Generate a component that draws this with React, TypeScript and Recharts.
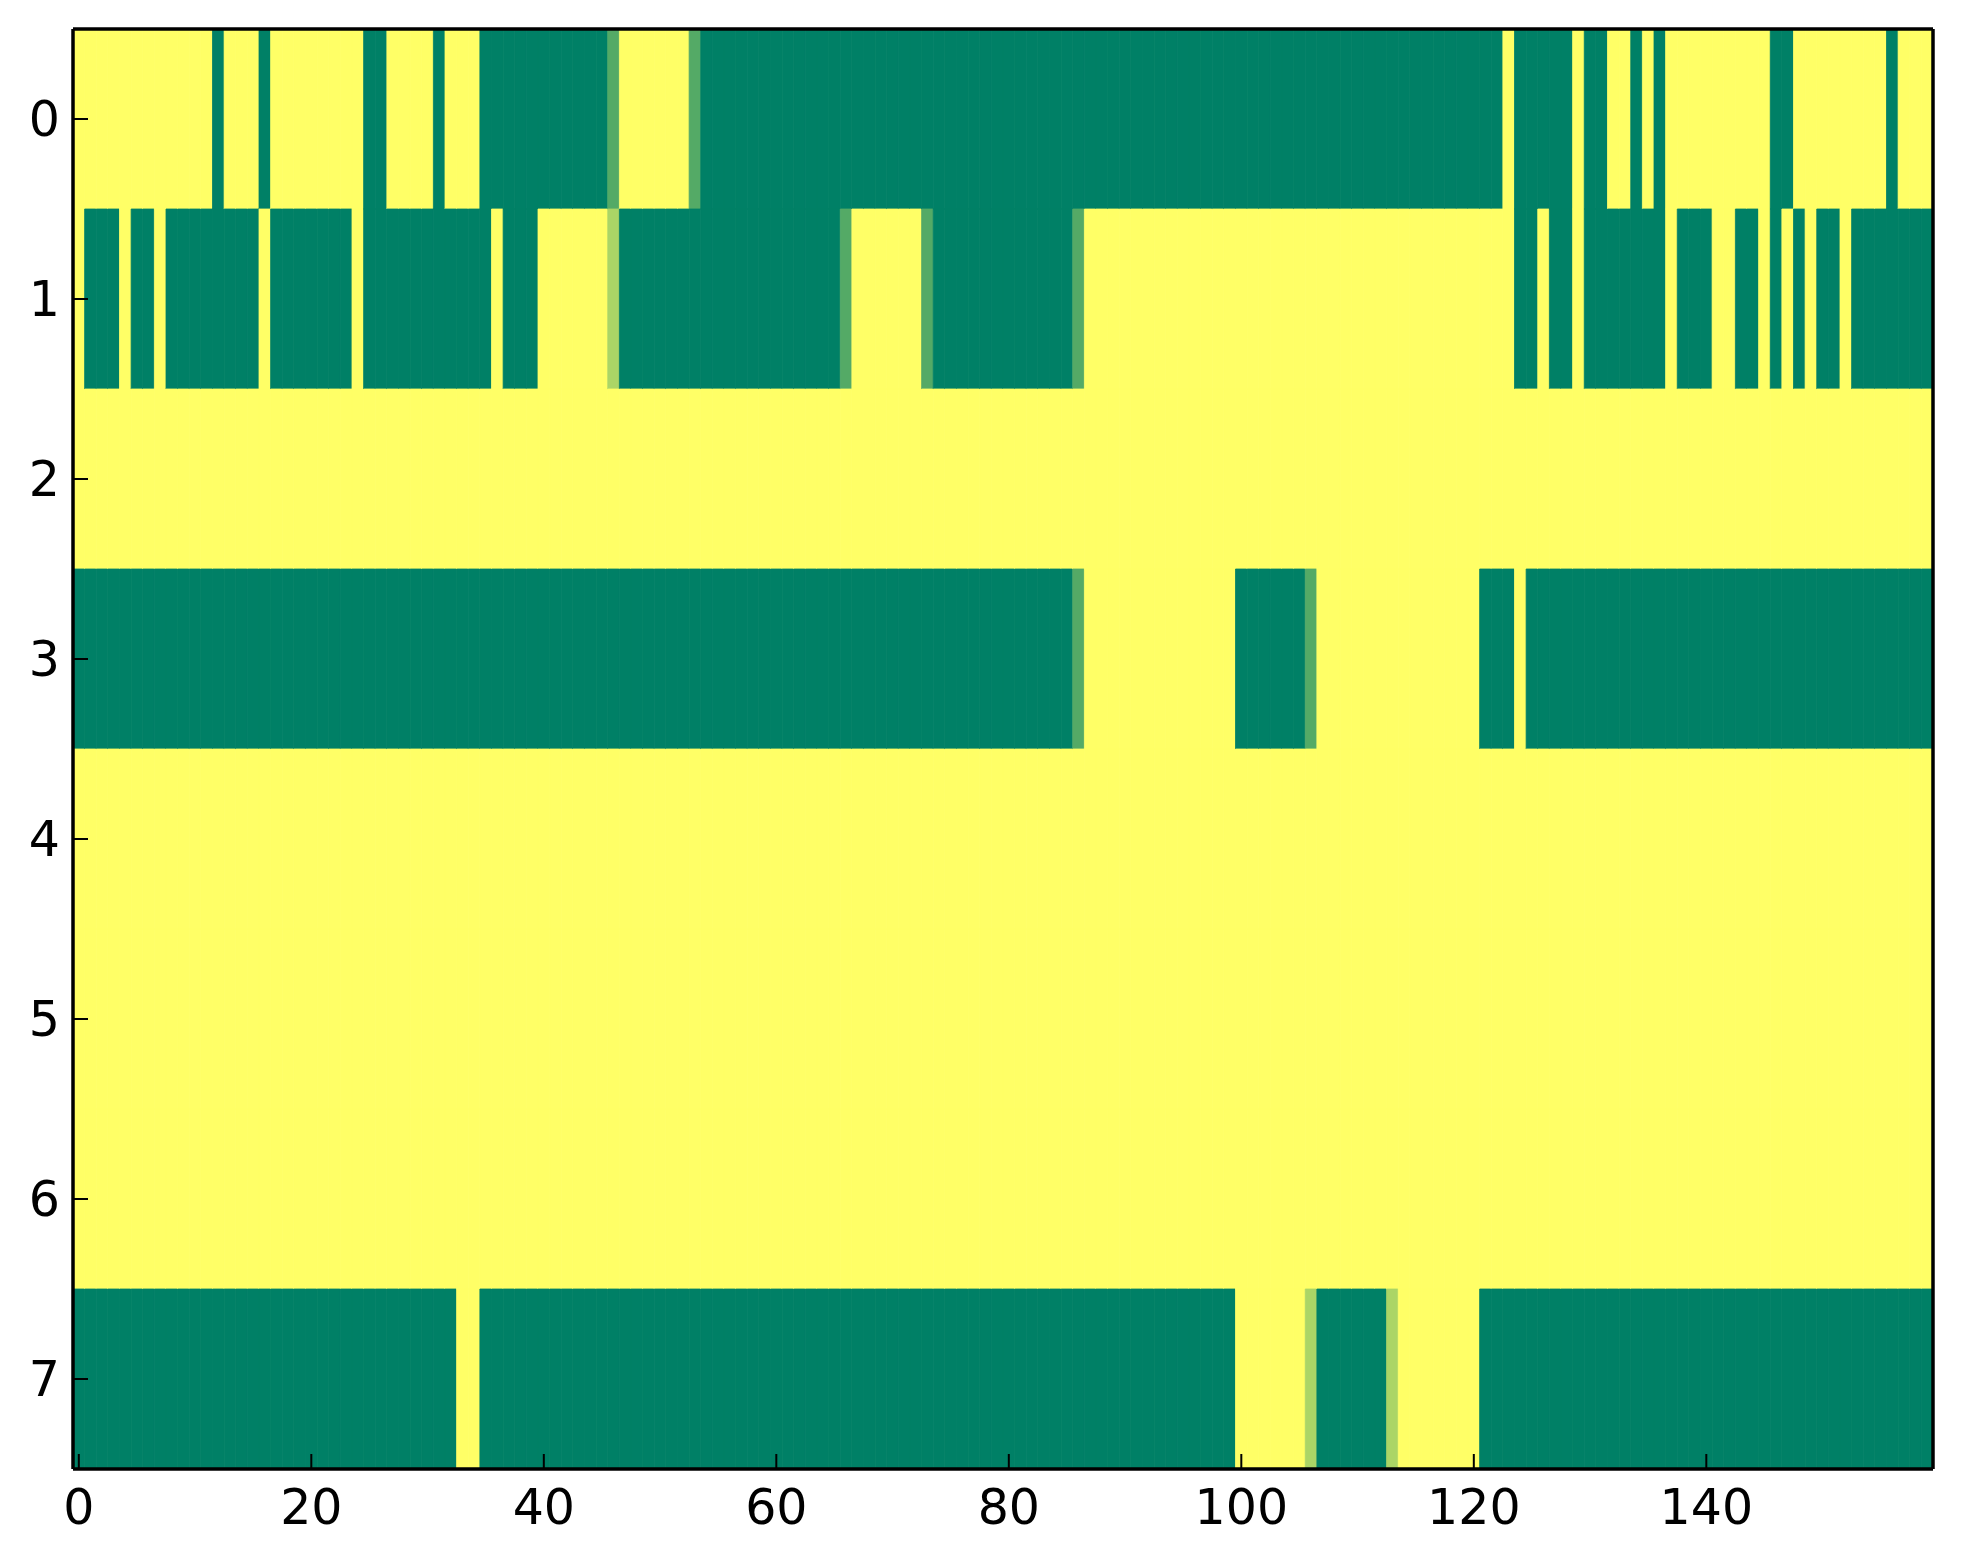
import { BarChart, Bar, Cell, XAxis, YAxis } from "recharts";

// ─── Data: imshow of 8 rows x 160 columns, values 0..1 (summer colormap) ─────

const ROW_LABELS = [0, 1, 2, 3, 4, 5, 6, 7];
const X_TICKS = [0, 20, 40, 60, 80, 100, 120, 140];

const ROW_0 = [
  1, 1, 1, 1, 1, 1, 1, 1, 1, 1, 1, 1, 0, 1, 1, 1, 0, 1, 1, 1, 1, 1, 1, 1, 1, 0, 0, 1, 1, 1, 1, 0, 1, 1, 1, 0, 0, 0, 0, 0,
  0, 0, 0, 0, 0, 0, 0.33, 1, 1, 1, 1, 1, 1, 0.33, 0, 0, 0, 0, 0, 0, 0, 0, 0, 0, 0, 0, 0, 0, 0, 0, 0, 0, 0, 0, 0, 0, 0, 0, 0, 0,
  0, 0, 0, 0, 0, 0, 0, 0, 0, 0, 0, 0, 0, 0, 0, 0, 0, 0, 0, 0, 0, 0, 0, 0, 0, 0, 0, 0, 0, 0, 0, 0, 0, 0, 0, 0, 0, 0, 0, 0,
  0, 0, 0, 1, 0, 0, 0, 0, 0, 1, 0, 0, 1, 1, 0, 1, 0, 1, 1, 1, 1, 1, 1, 1, 1, 1, 0, 0, 1, 1, 1, 1, 1, 1, 1, 1, 0, 1, 1, 1,
];
const ROW_1 = [
  1, 0, 0, 0, 1, 0, 0, 1, 0, 0, 0, 0, 0, 0, 0, 0, 1, 0, 0, 0, 0, 0, 0, 0, 1, 0, 0, 0, 0, 0, 0, 0, 0, 0, 0, 0, 1, 0, 0, 0,
  1, 1, 1, 1, 1, 1, 0.67, 0, 0, 0, 0, 0, 0, 0, 0, 0, 0, 0, 0, 0, 0, 0, 0, 0, 0, 0, 0.33, 1, 1, 1, 1, 1, 1, 0.33, 0, 0, 0, 0, 0, 0,
  0, 0, 0, 0, 0, 0, 0.33, 1, 1, 1, 1, 1, 1, 1, 1, 1, 1, 1, 1, 1, 1, 1, 1, 1, 1, 1, 1, 1, 1, 1, 1, 1, 1, 1, 1, 1, 1, 1, 1, 1,
  1, 1, 1, 1, 0, 0, 1, 0, 0, 1, 0, 0, 0, 0, 0, 0, 0, 1, 0, 0, 0, 1, 1, 0, 0, 1, 0, 1, 0, 1, 0, 0, 1, 0, 0, 0, 0, 0, 0, 0,
];
const ROW_2 = [
  1, 1, 1, 1, 1, 1, 1, 1, 1, 1, 1, 1, 1, 1, 1, 1, 1, 1, 1, 1, 1, 1, 1, 1, 1, 1, 1, 1, 1, 1, 1, 1, 1, 1, 1, 1, 1, 1, 1, 1,
  1, 1, 1, 1, 1, 1, 1, 1, 1, 1, 1, 1, 1, 1, 1, 1, 1, 1, 1, 1, 1, 1, 1, 1, 1, 1, 1, 1, 1, 1, 1, 1, 1, 1, 1, 1, 1, 1, 1, 1,
  1, 1, 1, 1, 1, 1, 1, 1, 1, 1, 1, 1, 1, 1, 1, 1, 1, 1, 1, 1, 1, 1, 1, 1, 1, 1, 1, 1, 1, 1, 1, 1, 1, 1, 1, 1, 1, 1, 1, 1,
  1, 1, 1, 1, 1, 1, 1, 1, 1, 1, 1, 1, 1, 1, 1, 1, 1, 1, 1, 1, 1, 1, 1, 1, 1, 1, 1, 1, 1, 1, 1, 1, 1, 1, 1, 1, 1, 1, 1, 1,
];
const ROW_3 = [
  0, 0, 0, 0, 0, 0, 0, 0, 0, 0, 0, 0, 0, 0, 0, 0, 0, 0, 0, 0, 0, 0, 0, 0, 0, 0, 0, 0, 0, 0, 0, 0, 0, 0, 0, 0, 0, 0, 0, 0,
  0, 0, 0, 0, 0, 0, 0, 0, 0, 0, 0, 0, 0, 0, 0, 0, 0, 0, 0, 0, 0, 0, 0, 0, 0, 0, 0, 0, 0, 0, 0, 0, 0, 0, 0, 0, 0, 0, 0, 0,
  0, 0, 0, 0, 0, 0, 0.33, 1, 1, 1, 1, 1, 1, 1, 1, 1, 1, 1, 1, 1, 0, 0, 0, 0, 0, 0, 0.33, 1, 1, 1, 1, 1, 1, 1, 1, 1, 1, 1, 1, 1,
  1, 0, 0, 0, 1, 0, 0, 0, 0, 0, 0, 0, 0, 0, 0, 0, 0, 0, 0, 0, 0, 0, 0, 0, 0, 0, 0, 0, 0, 0, 0, 0, 0, 0, 0, 0, 0, 0, 0, 0,
];
const ROW_4 = [
  1, 1, 1, 1, 1, 1, 1, 1, 1, 1, 1, 1, 1, 1, 1, 1, 1, 1, 1, 1, 1, 1, 1, 1, 1, 1, 1, 1, 1, 1, 1, 1, 1, 1, 1, 1, 1, 1, 1, 1,
  1, 1, 1, 1, 1, 1, 1, 1, 1, 1, 1, 1, 1, 1, 1, 1, 1, 1, 1, 1, 1, 1, 1, 1, 1, 1, 1, 1, 1, 1, 1, 1, 1, 1, 1, 1, 1, 1, 1, 1,
  1, 1, 1, 1, 1, 1, 1, 1, 1, 1, 1, 1, 1, 1, 1, 1, 1, 1, 1, 1, 1, 1, 1, 1, 1, 1, 1, 1, 1, 1, 1, 1, 1, 1, 1, 1, 1, 1, 1, 1,
  1, 1, 1, 1, 1, 1, 1, 1, 1, 1, 1, 1, 1, 1, 1, 1, 1, 1, 1, 1, 1, 1, 1, 1, 1, 1, 1, 1, 1, 1, 1, 1, 1, 1, 1, 1, 1, 1, 1, 1,
];
const ROW_5 = [
  1, 1, 1, 1, 1, 1, 1, 1, 1, 1, 1, 1, 1, 1, 1, 1, 1, 1, 1, 1, 1, 1, 1, 1, 1, 1, 1, 1, 1, 1, 1, 1, 1, 1, 1, 1, 1, 1, 1, 1,
  1, 1, 1, 1, 1, 1, 1, 1, 1, 1, 1, 1, 1, 1, 1, 1, 1, 1, 1, 1, 1, 1, 1, 1, 1, 1, 1, 1, 1, 1, 1, 1, 1, 1, 1, 1, 1, 1, 1, 1,
  1, 1, 1, 1, 1, 1, 1, 1, 1, 1, 1, 1, 1, 1, 1, 1, 1, 1, 1, 1, 1, 1, 1, 1, 1, 1, 1, 1, 1, 1, 1, 1, 1, 1, 1, 1, 1, 1, 1, 1,
  1, 1, 1, 1, 1, 1, 1, 1, 1, 1, 1, 1, 1, 1, 1, 1, 1, 1, 1, 1, 1, 1, 1, 1, 1, 1, 1, 1, 1, 1, 1, 1, 1, 1, 1, 1, 1, 1, 1, 1,
];
const ROW_6 = [
  1, 1, 1, 1, 1, 1, 1, 1, 1, 1, 1, 1, 1, 1, 1, 1, 1, 1, 1, 1, 1, 1, 1, 1, 1, 1, 1, 1, 1, 1, 1, 1, 1, 1, 1, 1, 1, 1, 1, 1,
  1, 1, 1, 1, 1, 1, 1, 1, 1, 1, 1, 1, 1, 1, 1, 1, 1, 1, 1, 1, 1, 1, 1, 1, 1, 1, 1, 1, 1, 1, 1, 1, 1, 1, 1, 1, 1, 1, 1, 1,
  1, 1, 1, 1, 1, 1, 1, 1, 1, 1, 1, 1, 1, 1, 1, 1, 1, 1, 1, 1, 1, 1, 1, 1, 1, 1, 1, 1, 1, 1, 1, 1, 1, 1, 1, 1, 1, 1, 1, 1,
  1, 1, 1, 1, 1, 1, 1, 1, 1, 1, 1, 1, 1, 1, 1, 1, 1, 1, 1, 1, 1, 1, 1, 1, 1, 1, 1, 1, 1, 1, 1, 1, 1, 1, 1, 1, 1, 1, 1, 1,
];
const ROW_7 = [
  0, 0, 0, 0, 0, 0, 0, 0, 0, 0, 0, 0, 0, 0, 0, 0, 0, 0, 0, 0, 0, 0, 0, 0, 0, 0, 0, 0, 0, 0, 0, 0, 0, 1, 1, 0, 0, 0, 0, 0,
  0, 0, 0, 0, 0, 0, 0, 0, 0, 0, 0, 0, 0, 0, 0, 0, 0, 0, 0, 0, 0, 0, 0, 0, 0, 0, 0, 0, 0, 0, 0, 0, 0, 0, 0, 0, 0, 0, 0, 0,
  0, 0, 0, 0, 0, 0, 0, 0, 0, 0, 0, 0, 0, 0, 0, 0, 0, 0, 0, 0, 1, 1, 1, 1, 1, 1, 0.67, 0, 0, 0, 0, 0, 0, 0.67, 1, 1, 1, 1, 1, 1,
  1, 0, 0, 0, 0, 0, 0, 0, 0, 0, 0, 0, 0, 0, 0, 0, 0, 0, 0, 0, 0, 0, 0, 0, 0, 0, 0, 0, 0, 0, 0, 0, 0, 0, 0, 0, 0, 0, 0, 0,
];

const GRID = [ROW_0, ROW_1, ROW_2, ROW_3, ROW_4, ROW_5, ROW_6, ROW_7];

// one stacked segment of width 1 per image column
const COL_KEYS = ROW_0.map((_, c) => `c${c}`);

const table = ROW_LABELS.map((row) => {
  const d: Record<string, number> = { row };
  COL_KEYS.forEach((k) => (d[k] = 1));
  return d;
});

// ─── matplotlib "summer" colormap ────────────────────────────────────────────

function summer(v: number): string {
  const r = Math.round(255 * v);
  const g = Math.round(127.5 + 127.5 * v);
  return `rgb(${r},${g},102)`;
}

const TICK = { fontSize: 49, fill: "#000", fontFamily: "DejaVu Sans" };
const SPINE = { stroke: "#000", strokeWidth: 3.5 };
const TICK_LINE = { stroke: "#000", strokeWidth: 2 };

export default function App() {
  return (
    <div style={{ position: "absolute", left: 0, top: 0, width: 1963, height: 1564, background: "#fff" }}>
      <BarChart
        width={1963}
        height={1564}
        layout="vertical"
        data={table}
        margin={{ top: 28, right: 29, bottom: 0, left: 0 }}
        barCategoryGap={0}
        barGap={0}
      >
        {COL_KEYS.map((k, c) => (
          <Bar
            key={k}
            dataKey={k}
            stackId="img"
            xAxisId="bottom"
            yAxisId="left"
            isAnimationActive={false}
          >
            {GRID.map((vals, r) => (
              <Cell key={r} fill={summer(vals[c])} stroke={summer(vals[c])} strokeWidth={0.8} />
            ))}
          </Bar>
        ))}
        <XAxis
          xAxisId="bottom"
          type="number"
          orientation="bottom"
          domain={[0, COL_KEYS.length]}
          ticks={X_TICKS.map((t) => t + 0.5)}
          tickFormatter={(v: number) => String(v - 0.5)}
          interval={0}
          height={95}
          tickSize={-15}
          tickMargin={35}
          axisLine={SPINE}
          tickLine={TICK_LINE}
          tick={TICK}
        />
        <XAxis
          xAxisId="top"
          type="number"
          orientation="top"
          domain={[0, COL_KEYS.length]}
          ticks={X_TICKS.map((t) => t + 0.5)}
          interval={0}
          height={1}
          tickSize={-15}
          axisLine={SPINE}
          tickLine={TICK_LINE}
          tick={false}
        />
        <YAxis
          yAxisId="left"
          type="category"
          dataKey="row"
          width={73}
          interval={0}
          tickSize={-15}
          tickMargin={28}
          axisLine={SPINE}
          tickLine={TICK_LINE}
          tick={TICK}
        />
        <YAxis
          yAxisId="right"
          type="category"
          dataKey="row"
          orientation="right"
          width={1}
          interval={0}
          tickSize={-15}
          axisLine={SPINE}
          tickLine={TICK_LINE}
          tick={false}
        />
      </BarChart>
    </div>
  );
}
